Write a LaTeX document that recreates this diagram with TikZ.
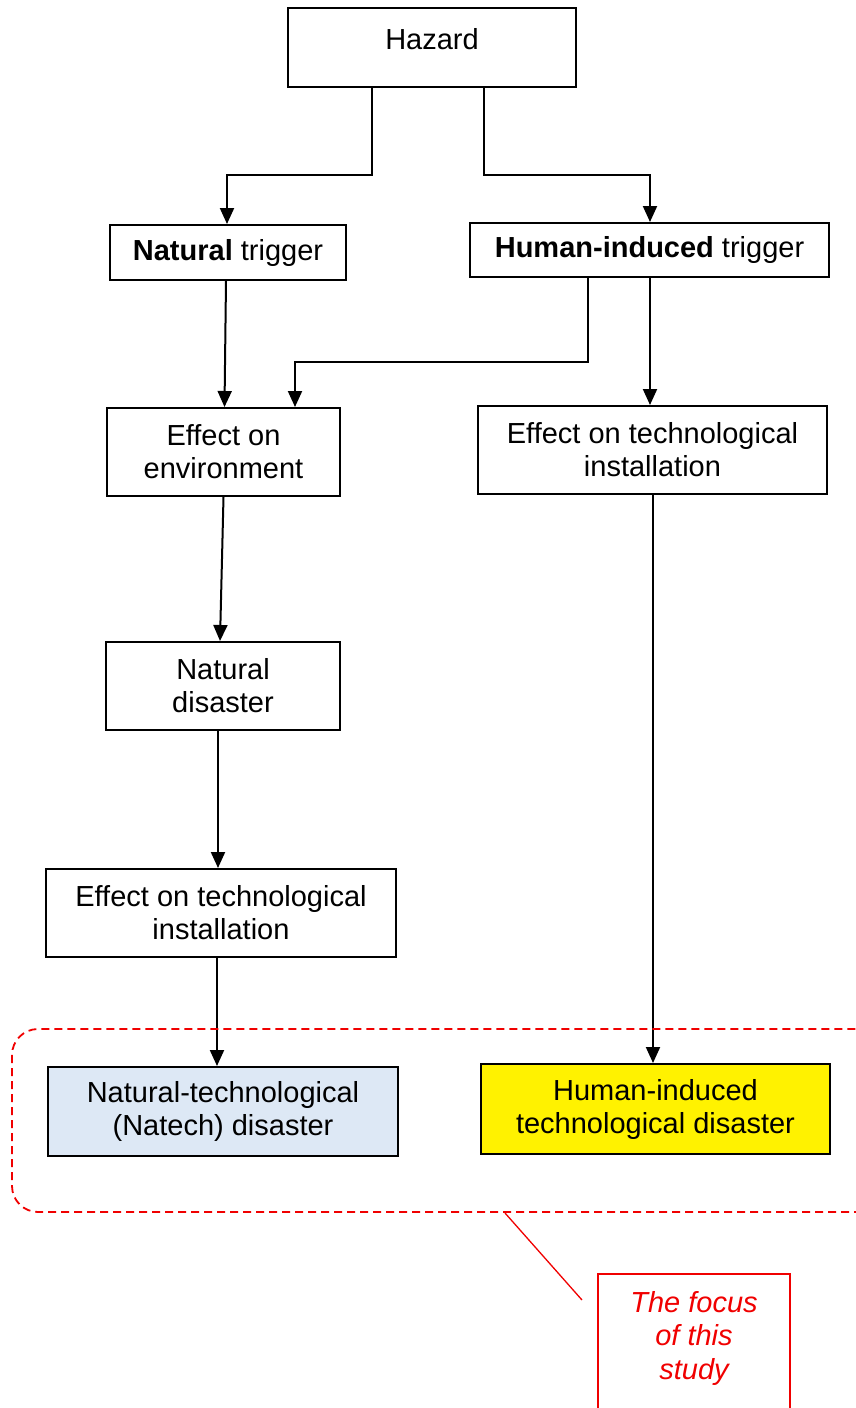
\documentclass[tikz,border=0pt]{standalone}
\usepackage{fontspec}
\setmainfont{Liberation Sans}
\usetikzlibrary{arrows.meta}
\definecolor{natechblue}{RGB}{221,232,245}
\definecolor{focusred}{RGB}{240,0,0}
\begin{document}
\begin{tikzpicture}[x=1pt, y=-1pt,
    font=\fontsize{29}{33}\selectfont,
    box/.style={draw, line width=2pt, inner sep=0pt, align=center},
    link/.style={line width=2pt, -{Triangle[width=14pt,length=16pt]}},
    focusline/.style={draw=focusred, line width=1.8pt}]
    \useasboundingbox (0, 0) rectangle (855, 1408);
    % boxes
    \node[box, minimum width=288, minimum height=79, text height=21pt, text depth=18pt] (hazard) at (432, 47.5) {Hazard};
    \node[box, minimum width=236, minimum height=55] (ntrig) at (228, 252.5) {\textbf{Natural} trigger};
    \node[box, minimum width=359, minimum height=54] (htrig) at (649.5, 250) {\textbf{Human-induced} trigger};
    \node[box, minimum width=233, minimum height=88] (env) at (223.5, 452) {Effect on\\environment};
    \node[box, minimum width=349, minimum height=88] (techR) at (652.5, 450) {Effect on technological\\installation};
    \node[box, minimum width=234, minimum height=88] (ndis) at (223, 686) {Natural\\disaster};
    \node[box, minimum width=350, minimum height=88] (techL) at (221, 913) {Effect on technological\\installation};
    \node[box, fill=natechblue, minimum width=350, minimum height=89] (natech) at (223, 1111.5) {Natural-technological\\(Natech) disaster};
    \node[box, fill=yellow, minimum width=349, minimum height=90] (hdis) at (655.5, 1109) {Human-induced\\technological disaster};
    % connectors
    \draw[link] ([xshift=-60]hazard.south) |- (227, 175) -- (ntrig.north -| 227, 0);
    \draw[link] ([xshift=52]hazard.south) |- (650, 175) -- (htrig.north -| 650, 0);
    \draw[link] ([xshift=-2]ntrig.south) -- ([xshift=1]env.north);
    \draw[link] ([xshift=-61.5]htrig.south) |- (295, 362) -- ([xshift=71.5]env.north);
    \draw[link] ([xshift=0.5]htrig.south) -- ([xshift=-2.5]techR.north);
    \draw[link] (env.south) -- ([xshift=-3]ndis.north);
    \draw[link] ([xshift=-5]ndis.south) -- ([xshift=-3]techL.north);
    \draw[link] ([xshift=-4]techL.south) -- ([xshift=-6]natech.north);
    \draw[link] ([xshift=0.5]techR.south) -- ([xshift=-2.5]hdis.north);
    % focus of the study
    \draw[focusline, dash pattern=on 8pt off 5pt, rounded corners=26] (12, 1029) rectangle (885, 1212);
    \coordinate (group) at (505, 1213);
    \draw[focusline] (598, 1430) |- (790, 1274) -- (790, 1430);
    \node[text=focusred, font=\fontsize{29}{33.5}\selectfont\itshape, align=center] (focus) at (694, 1338) {The focus\\of this\\study};
    \coordinate (tip) at (582, 1300);
    \draw[draw=focusred, line width=1.3pt] (group) -- (tip);
\end{tikzpicture}
\end{document}
